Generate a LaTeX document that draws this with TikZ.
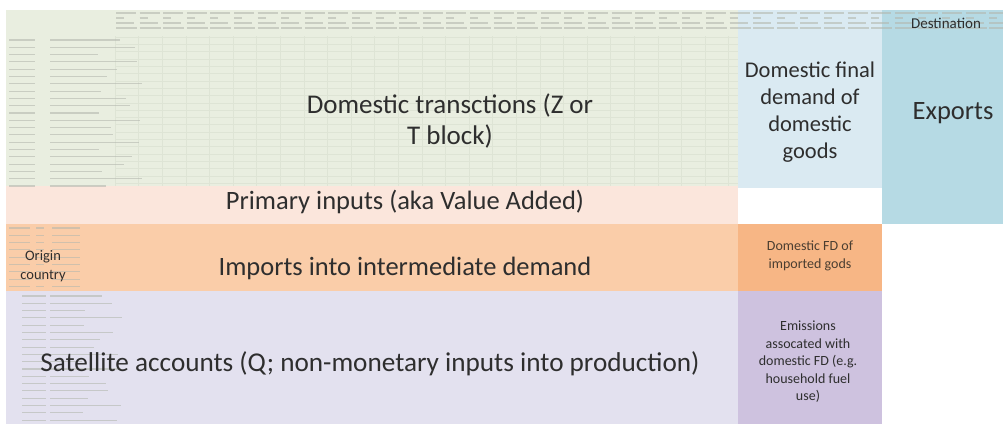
\documentclass[tikz,border=0pt]{standalone}
\usepackage{fontspec}
\setmainfont{Carlito}
\newfontfamily\thick{Carlito}
\definecolor{greenbg}{HTML}{E9EEE0}
\definecolor{gridc}{HTML}{DEE4D5}
\definecolor{pinkband}{HTML}{FBE6DC}
\definecolor{orangeband}{HTML}{FACDA9}
\definecolor{lavender}{HTML}{E3E1EF}
\definecolor{fdblue}{HTML}{DAEAF2}
\definecolor{exportblue}{HTML}{B6DAE4}
\definecolor{fdorange}{HTML}{F7B685}
\definecolor{fdpurple}{HTML}{CEC2DF}
\definecolor{txt}{HTML}{2E2E2E}
\definecolor{smudge}{HTML}{B4B8AF}
\tikzset{
  lbl/.style={text=txt, align=center, inner sep=0pt},
  big/.style={lbl, font=\thick\fontsize{26.5}{31}\selectfont},
  mid/.style={lbl, font=\thick\fontsize{22.5}{27}\selectfont},
  small/.style={lbl, font=\thick\fontsize{14}{17.5}\selectfont},
  tiny/.style={smudge, line width=1.1pt, opacity=0.6},
}
\begin{document}
\begin{tikzpicture}[x=1pt,y=-1pt]
\useasboundingbox (0,0) rectangle (1003,424);
% blocks
\fill[greenbg] (6,10) rectangle (738,186);
\fill[pinkband] (6,186) rectangle (738,224);
\fill[orangeband] (6,224) rectangle (738,291);
\fill[lavender] (6,291) rectangle (738,424);
\fill[fdblue] (738,10) rectangle (882,188);
\fill[white] (738,188) rectangle (882,224);
\fill[fdorange] (738,224) rectangle (882,291);
\fill[fdpurple] (738,291) rectangle (882,424);
\fill[exportblue] (882,10) rectangle (1003,224);
% faint grid of the spreadsheet
\foreach \k in {0,...,26} \draw[gridc, line width=0.4pt] (115+23.6*\k,36) -- (115+23.6*\k,186);
\foreach \k in {0,...,20} \draw[gridc, line width=0.4pt] (115,37+7.3*\k) -- (738,37+7.3*\k);
% blurred header text
\foreach \k in {0,...,37} {
  \draw[tiny] (116+23.6*\k,13) -- (136+23.6*\k,13);
  \draw[tiny] (116+23.6*\k,18) -- (124+23.6*\k,18);
  \draw[tiny] (116+23.6*\k,23) -- (134+23.6*\k,23);
  \draw[tiny] (116+23.6*\k,28) -- (137+23.6*\k,28);
}
% blurred row labels
\foreach \i in {0,...,20} {
  \pgfmathsetmacro{\len}{70+22*sin(\i*137)}
  \draw[tiny] (9,40+7.3*\i) -- (35,40+7.3*\i);
  \draw[tiny] (50,40+7.3*\i) -- (50+\len,40+7.3*\i);
}
\foreach \i in {0,...,8} {
  \draw[tiny] (9,228+7.3*\i) -- (30,228+7.3*\i);
  \draw[tiny] (36,228+7.3*\i) -- (44,228+7.3*\i);
  \draw[tiny] (52,228+7.3*\i) -- (80,228+7.3*\i);
}
\foreach \i in {0,...,17} {
  \pgfmathsetmacro{\len}{52+20*sin(\i*151)}
  \draw[tiny] (22,296+7.3*\i) -- (46,296+7.3*\i);
  \draw[tiny] (50,296+7.3*\i) -- (50+\len,296+7.3*\i);
}
% labels
\node[big, anchor=base, font=\thick\fontsize{27}{31}\selectfont] (dom) at (450,144) {Domestic transctions (Z or\\T block)};
\node[big] (prim) at (405,202) {Primary inputs (aka Value Added)};
\node[big] (imp) at (405,268) {Imports into intermediate demand};
\node[big, font=\thick\fontsize{27.2}{33}\selectfont] (sat) at (370,364) {Satellite accounts (Q; non-monetary inputs into production)};
\node[mid] (dfd) at (810,112) {Domestic final\\demand of\\domestic\\goods};
\node[big] (exp) at (953,113) {Exports};
\node[lbl, font=\thick\fontsize{15}{17}\selectfont] (dest) at (946,23) {Destination};
\node[lbl, font=\thick\fontsize{14.5}{19}\selectfont] (orig) at (43,266) {Origin\\country};
\node[small, text=txt!80!brown] (fdi) at (810,256) {Domestic FD of\\imported gods};
\node[small] (emi) at (808,362) {Emissions\\assocated with\\domestic FD (e.g.\\household fuel\\use)};
\end{tikzpicture}
\end{document}
